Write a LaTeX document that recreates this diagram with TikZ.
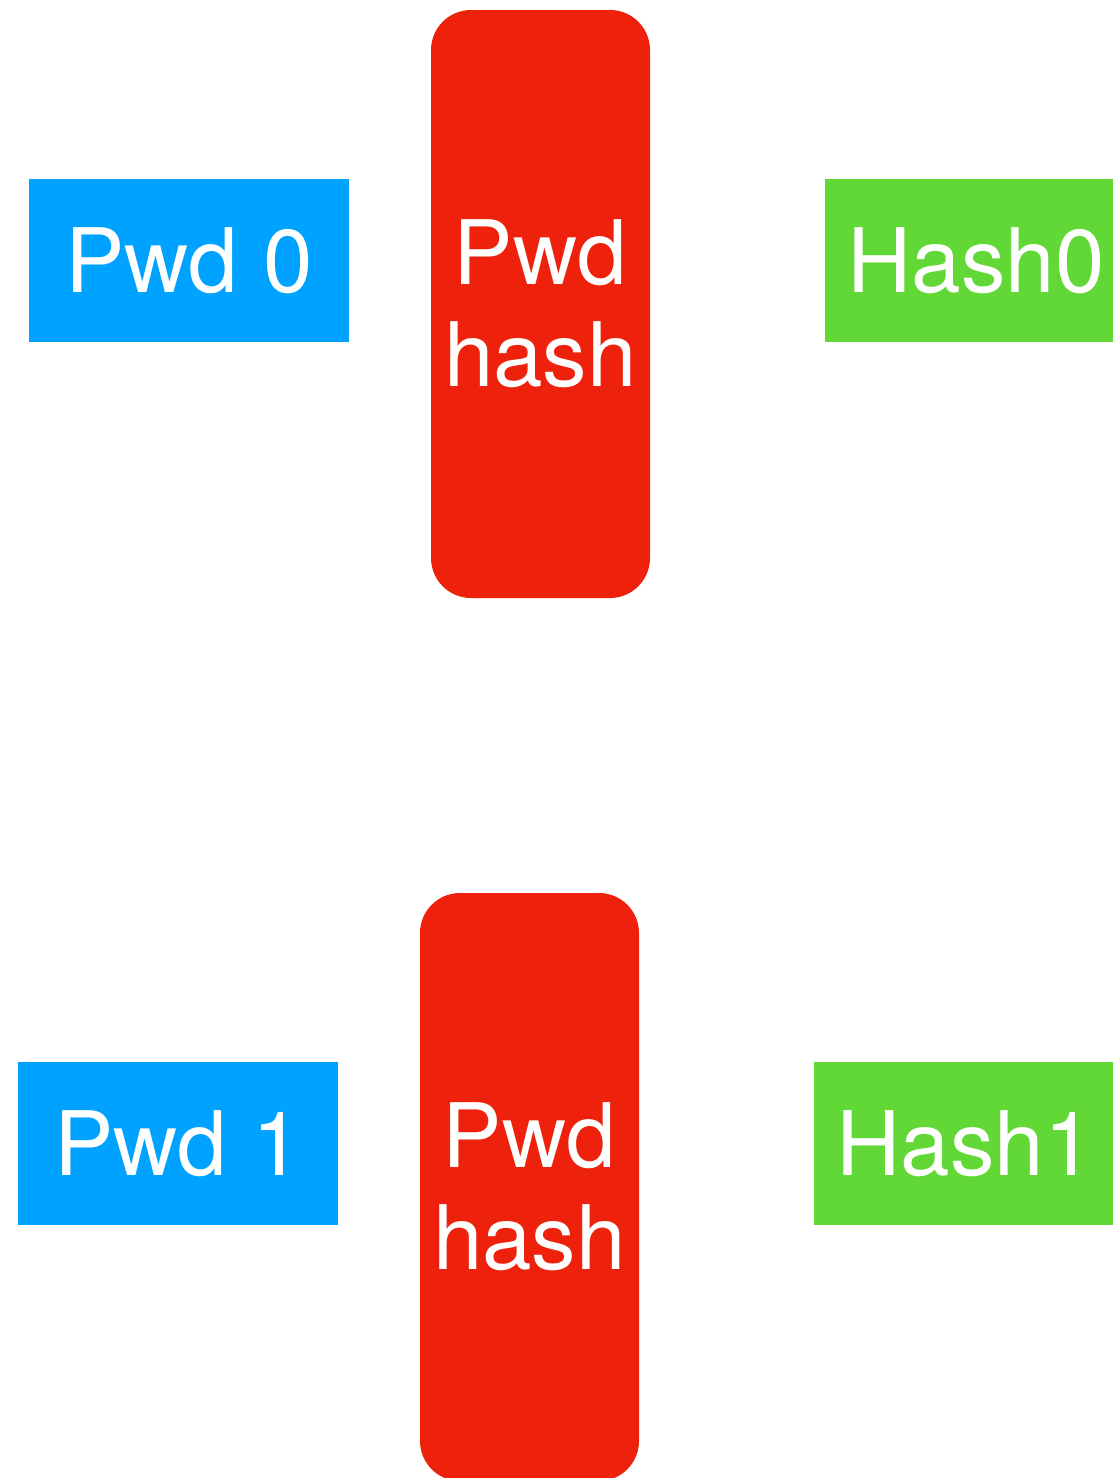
\documentclass[tikz,border=0pt]{standalone}
\usepackage{fontspec}
\setmainfont{TeX Gyre Heros}
\definecolor{pwdblue}{HTML}{00A2FF}
\definecolor{hashred}{HTML}{EE220C}
\definecolor{hashgreen}{HTML}{61D836}
\begin{document}
\begin{tikzpicture}[x=1pt,y=-1pt,
  lbl/.style={text=white,font=\fontsize{89}{102}\selectfont,inner sep=0pt,outer sep=0pt,align=center},
  pwdbox/.style={lbl,fill=pwdblue,minimum width=320pt,minimum height=163pt},
  hashbox/.style={lbl,fill=hashgreen,minimum width=302pt,minimum height=163pt},
  funcbox/.style={lbl,fill=hashred,rounded corners=40pt,minimum width=219pt,minimum height=588pt}]
\useasboundingbox (0,0) rectangle (1113,1478);
\clip (0,0) rectangle (1113,1478);
% top row
\node[pwdbox]  (pwd0)  at (189,260.5) {Pwd 0};
\node[funcbox] (func0) at (540.5,304) {Pwd\\hash};
\node[hashbox] (hash0) at (976,260.5) {Hash0};
% bottom row
\node[pwdbox]  (pwd1)  at (178,1143.5) {Pwd 1};
\node[funcbox] (func1) at (529.5,1187) {Pwd\\hash};
\node[hashbox] (hash1) at (965,1143.5) {Hash1};
\end{tikzpicture}
\end{document}
